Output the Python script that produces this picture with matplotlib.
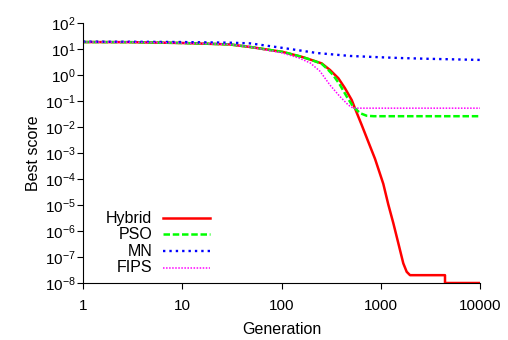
import matplotlib
matplotlib.use("Agg")
import matplotlib.pyplot as plt

plt.rcParams['font.family'] = ['Liberation Sans', 'DejaVu Sans']
plt.rcParams['mathtext.fontset'] = 'custom'
plt.rcParams['mathtext.rm'] = 'Liberation Sans'
plt.rcParams['mathtext.it'] = 'Liberation Sans'
plt.rcParams['font.size'] = 11

# generation / best score
hybrid_gen = [1, 3, 10, 30, 48, 103, 160, 200, 254, 308, 374, 436, 510, 550, 643,
              749, 875, 967, 1061, 1191, 1339, 1503, 1687, 1825, 1972, 4440, 4440,
              10000]
hybrid_val = [18.5, 18.3, 17, 15, 12, 7.7, 5.0, 3.8, 2.8, 1.56, 0.75, 0.31, 0.109,
              0.052, 0.0119, 2.7e-3, 6.0e-4, 1.9e-4, 6.5e-5, 1.05e-5, 2e-6, 3.4e-7,
              5.7e-8, 2.7e-8, 2e-8, 2e-8, 1e-8, 1e-8]

pso_gen = [1, 3, 10, 30, 48, 103, 160, 200, 254, 290, 331, 388, 454, 528, 620, 723,
           850, 10000]
pso_val = [18.5, 18.3, 17, 15, 12, 7.7, 5.0, 3.8, 2.7, 1.7, 1.0, 0.42, 0.148, 0.06,
           0.034, 0.027, 0.026, 0.026]

mn_gen = [1, 3, 10, 30, 48, 103, 228, 490, 1000, 1560, 3000, 10000]
mn_val = [19.2, 19, 18.5, 17.5, 16.5, 11, 7.0, 5.4, 4.8, 4.5, 4.2, 3.8]

fips_gen = [1, 3, 10, 30, 48, 103, 150, 195, 244, 308, 388, 471, 530, 10000]
fips_val = [18.5, 18.3, 17, 15, 12, 7.0, 4.5, 2.9, 1.4, 0.41, 0.148, 0.07, 0.053,
            0.053]

x_ticks = [1, 10, 100, 1000, 10000]
x_labels = ["1", "10", "100", "1000", "10000"]
y_exps = list(range(-8, 3))

series = [
    ("Hybrid", hybrid_gen, hybrid_val, "#ff0000", "-", 1.8),
    ("PSO", pso_gen, pso_val, "#00ff00", (0, (2.6, 1.1)), 1.8),
    ("MN", mn_gen, mn_val, "#0000ff", (0, (1, 1.7)), 1.7),
    ("FIPS", fips_gen, fips_val, "#ff00ff", (0, (1, 1)), 1.1),
]

fig = plt.figure(figsize=(5.08, 3.40), dpi=100)
ax = fig.add_axes([83 / 508, 1 - 283 / 340, 397 / 508, 260 / 340])

for name, gx, gy, col, ls, lw in series:
    ax.plot(gx, gy, color=col, linestyle=ls, linewidth=lw)

ax.set_xscale("log")
ax.set_yscale("log")
ax.set_xlim(1, 10000)
ax.set_ylim(1e-8, 1e2)
ax.set_xticks(x_ticks)
ax.set_xticklabels(x_labels)
ax.set_yticks([10.0 ** e for e in y_exps])
ax.set_yticklabels([f"$10^{{{e}}}$" for e in y_exps])
ax.minorticks_off()
ax.tick_params(axis="both", direction="out", length=4.3, width=0.8, labelsize=11)
ax.tick_params(axis="x", pad=7.5)
ax.tick_params(axis="y", pad=1)

for side in ("top", "right"):
    ax.spines[side].set_visible(False)
for side in ("left", "bottom"):
    ax.spines[side].set_linewidth(0.8)

ax.set_xlabel("Generation", fontsize=11.5, labelpad=6)
ax.set_ylabel("Best score", fontsize=11.5, labelpad=3)

# gnuplot-style key: label right-aligned, sample to its right
row_y = [0.249, 0.187, 0.123, 0.059]
for (name, gx, gy, col, ls, lw), yy in zip(series, row_y):
    ax.text(0.174, yy, name, transform=ax.transAxes, ha="right", va="center",
            fontsize=11.5)
    ax.plot([0.2015, 0.32], [yy, yy], transform=ax.transAxes, color=col,
            linestyle=ls, linewidth=lw, clip_on=False)

fig.savefig("out.png", dpi=100)
